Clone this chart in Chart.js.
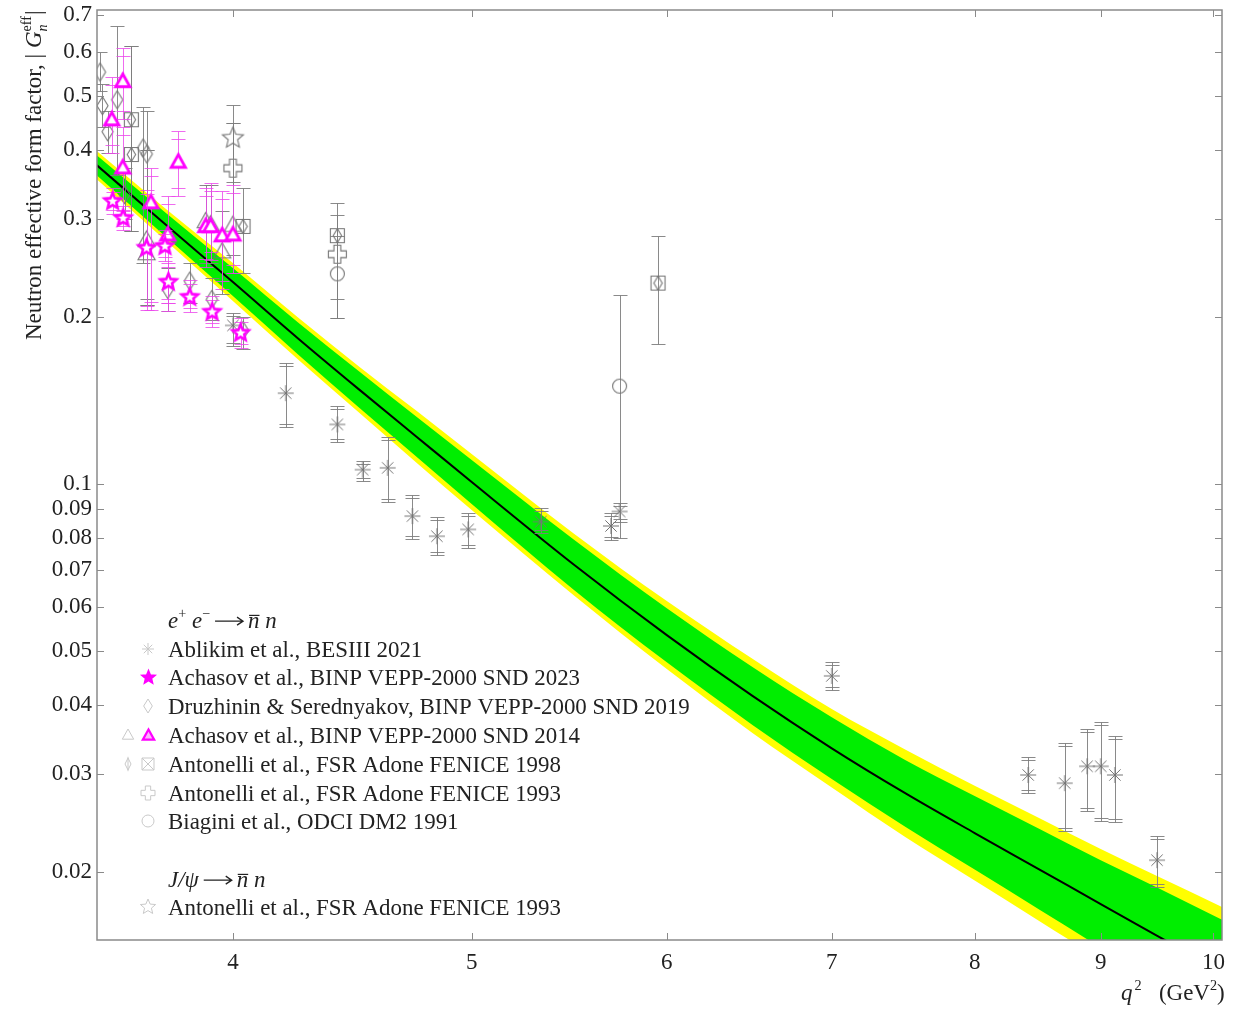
<!DOCTYPE html>
<html>
<head>
<meta charset="utf-8">
<script src="https://cdn.jsdelivr.net/npm/chart.js@4.4.1/dist/chart.umd.min.js"></script>
<style>
  html, body { margin: 0; padding: 0; background: #ffffff; }
  #wrap { width: 1246px; height: 1011px; position: relative; }
</style>
</head>
<body>
<div id="wrap"><canvas id="chart" width="1246" height="1011"></canvas></div>
<script>
// ---- axis ticks ----
const xTickValues = [4, 5, 6, 7, 8, 9, 10];
const yTickValues = [0.02, 0.03, 0.04, 0.05, 0.06, 0.07, 0.08, 0.09, 0.1, 0.2, 0.3, 0.4, 0.5, 0.6, 0.7];

// ---- model curve: central value with inner (green) and outer (yellow) bands ----
const modelQ2      = [3.52, 3.75, 4.0, 4.25, 4.5, 4.75, 5.0, 5.5, 6.0, 6.5, 7.0, 7.5, 8.0, 8.5, 9.0, 9.5, 10.08];
const modelCentral = [0.376, 0.295, 0.231, 0.183, 0.148, 0.1215, 0.1008, 0.0716, 0.0534, 0.0415, 0.0334, 0.0277, 0.0235, 0.0202, 0.0175, 0.0153, 0.0132];
const greenLo      = [0.3607, 0.2807, 0.2180, 0.1713, 0.1373, 0.1118, 0.0920, 0.0645, 0.0477, 0.0368, 0.0294, 0.0241, 0.0202, 0.0171, 0.0146, 0.0125, 0.0106];
const greenHi      = [0.3919, 0.3100, 0.2448, 0.1956, 0.1595, 0.1320, 0.1104, 0.0794, 0.0597, 0.0468, 0.0380, 0.0318, 0.0274, 0.0239, 0.0210, 0.0187, 0.0164];
const yellowLo     = [0.3548, 0.2761, 0.2135, 0.1677, 0.1345, 0.1091, 0.0897, 0.0630, 0.0464, 0.0356, 0.0284, 0.0231, 0.0193, 0.0163, 0.0139, 0.0119, 0.0101];
const yellowHi     = [0.3985, 0.3152, 0.2500, 0.1997, 0.1628, 0.1353, 0.1132, 0.0814, 0.0615, 0.0484, 0.0393, 0.0332, 0.0286, 0.0250, 0.0220, 0.0196, 0.0173];

// ---- e+e- -> nbar n : BESIII 2021 ----
const besQ2 = [4.0, 4.2025, 4.41, 4.5156, 4.6225, 4.7306, 4.84, 4.9836, 5.333, 5.695, 5.741, 7.0, 8.41, 8.7025, 8.886, 9.0, 9.12, 9.486];
const besG  = [0.193, 0.1457, 0.128, 0.1061, 0.1069, 0.0875, 0.0805, 0.0828, 0.0855, 0.0840, 0.0892, 0.0451, 0.0299, 0.0289, 0.0310, 0.0310, 0.0299, 0.0210];
const besLo = [0.177, 0.1266, 0.1189, 0.1014, 0.0927, 0.0797, 0.0745, 0.0767, 0.0815, 0.0793, 0.0855, 0.0426, 0.0278, 0.0237, 0.0257, 0.0247, 0.0246, 0.0188];
const besHi = [0.203, 0.1654, 0.1381, 0.1100, 0.1214, 0.0955, 0.0870, 0.0888, 0.0905, 0.0888, 0.0923, 0.0478, 0.0322, 0.0342, 0.0362, 0.0372, 0.0352, 0.0232];

// ---- SND 2023 ----
const snd23Q2 = [3.575, 3.610, 3.690, 3.754, 3.766, 3.842, 3.923, 4.029];
const snd23G  = [0.323, 0.301, 0.266, 0.268, 0.231, 0.217, 0.204, 0.187];
const snd23Lo = [0.306, 0.287, 0.206, 0.252, 0.212, 0.204, 0.192, 0.176];
const snd23Hi = [0.341, 0.317, 0.338, 0.287, 0.250, 0.233, 0.218, 0.199];

// ---- SND 2019 (Druzhinin & Serednyakov) ----
const snd19Q2 = [3.533, 3.541, 3.558, 3.590, 3.615, 3.678, 3.691, 3.764, 3.842, 3.922, 4.038];
const snd19G  = [0.552, 0.480, 0.431, 0.492, 0.332, 0.403, 0.393, 0.224, 0.232, 0.215, 0.189];
const snd19Lo = [0.510, 0.440, 0.395, 0.360, 0.300, 0.250, 0.215, 0.205, 0.212, 0.197, 0.175];
const snd19Hi = [0.600, 0.525, 0.470, 0.667, 0.370, 0.477, 0.470, 0.245, 0.250, 0.235, 0.200];

// ---- SND 2014, two determinations ----
const snd14aQ2 = [3.690, 3.690, 3.900, 3.918, 3.960, 4.000];
const snd14aG  = [0.275, 0.260, 0.297, 0.293, 0.262, 0.2925];
const snd14aLo = [0.210, 0.210, 0.250, 0.250, 0.220, 0.240];
const snd14aHi = [0.400, 0.400, 0.345, 0.345, 0.310, 0.350];

const snd14bQ2 = [3.572, 3.609, 3.609, 3.705, 3.764, 3.801, 3.900, 3.918, 3.960, 4.000];
const snd14bG  = [0.453, 0.531, 0.371, 0.321, 0.281, 0.380, 0.291, 0.291, 0.280, 0.281];
const snd14bLo = [0.395, 0.455, 0.300, 0.206, 0.205, 0.330, 0.246, 0.253, 0.224, 0.240];
const snd14bHi = [0.540, 0.610, 0.440, 0.370, 0.330, 0.432, 0.341, 0.348, 0.337, 0.345];

// ---- FENICE 1998 ----
const fen98Q2 = [3.638, 3.638, 4.038, 4.41, 5.951];
const fen98G  = [0.453, 0.392, 0.291, 0.280, 0.230];
const fen98Lo = [0.286, 0.286, 0.240, 0.199, 0.179];
const fen98Hi = [0.615, 0.615, 0.341, 0.321, 0.280];

// ---- FENICE 1993 ----
const fen93Q2 = [4.0, 4.41];
const fen93G  = [0.3705, 0.2593];
const fen93Lo = [0.275, 0.215];
const fen93Hi = [0.446, 0.305];

// ---- DM2 1991 ----
const dm2Q2 = [4.41, 5.741];
const dm2G  = [0.239, 0.150];
const dm2Lo = [0.199, 0.080];
const dm2Hi = [0.280, 0.219];

// ---- J/psi -> nbar n : FENICE 1993 ----
const jpsiQ2 = [4.0];
const jpsiG  = [0.4196];
const jpsiLo = [0.240];
const jpsiHi = [0.482];

// ---------------------------------------------------------------
const SERIF = '"Liberation Serif", "DejaVu Serif", serif';
const GRAY = '#747474';
const MAG = '#ff00ff';
const BAR_GRAY = 'rgba(125,125,125,0.9)';
const BAR_MAG = 'rgba(235,70,235,0.8)';
const LEG_GRAY = '#c9c9c9';

const pts = (xs, ys) => xs.map((v, i) => ({ x: v, y: ys[i] }));

// hollow marker shapes rendered to small canvases for use as point styles
function makeMarker(kind, color, s, lw, fill) {
  const size = Math.ceil(s * 2 + lw * 2 + 4);
  const cv = document.createElement('canvas');
  cv.width = size; cv.height = size;
  const g = cv.getContext('2d');
  const c = size / 2;
  g.strokeStyle = color; g.lineWidth = lw; g.lineJoin = 'miter';
  g.beginPath();
  if (kind === 'star5') {
    for (let k = 0; k < 10; k++) {
      const r = k % 2 ? s * 0.45 : s;
      const a = -Math.PI / 2 + k * Math.PI / 5;
      g.lineTo(c + r * Math.cos(a), c + r * Math.sin(a));
    }
    g.closePath();
  } else if (kind === 'triangle') {
    g.moveTo(c, c - s); g.lineTo(c + s * 0.95, c + s * 0.7); g.lineTo(c - s * 0.95, c + s * 0.7); g.closePath();
  } else if (kind === 'diamond') {
    g.moveTo(c, c - s); g.lineTo(c + s * 0.62, c); g.lineTo(c, c + s); g.lineTo(c - s * 0.62, c); g.closePath();
  } else if (kind === 'circle') {
    g.arc(c, c, s, 0, Math.PI * 2);
  } else if (kind === 'plus') {
    const a = s, b = s * 0.38;
    g.moveTo(c - b, c - a); g.lineTo(c + b, c - a); g.lineTo(c + b, c - b); g.lineTo(c + a, c - b);
    g.lineTo(c + a, c + b); g.lineTo(c + b, c + b); g.lineTo(c + b, c + a); g.lineTo(c - b, c + a);
    g.lineTo(c - b, c + b); g.lineTo(c - a, c + b); g.lineTo(c - a, c - b); g.lineTo(c - b, c - b); g.closePath();
  } else if (kind === 'squareDiamond') {
    g.rect(c - s, c - s, 2 * s, 2 * s);
    g.moveTo(c, c - s); g.lineTo(c + s * 0.6, c); g.lineTo(c, c + s); g.lineTo(c - s * 0.6, c); g.closePath();
  } else if (kind === 'square') {
    g.rect(c - s, c - s, 2 * s, 2 * s);
    g.moveTo(c - s, c - s); g.lineTo(c + s, c + s); g.moveTo(c + s, c - s); g.lineTo(c - s, c + s);
  } else if (kind === 'diamondLine') {
    g.moveTo(c, c - s); g.lineTo(c + s * 0.5, c); g.lineTo(c, c + s); g.lineTo(c - s * 0.5, c); g.closePath();
    g.moveTo(c, c - s * 1.2); g.lineTo(c, c + s * 1.2);
  } else if (kind === 'asterisk') {
    for (let k = 0; k < 4; k++) {
      const a = k * Math.PI / 4;
      g.moveTo(c - s * Math.cos(a), c - s * Math.sin(a)); g.lineTo(c + s * Math.cos(a), c + s * Math.sin(a));
    }
  }
  if (fill) { g.fillStyle = fill; g.fill(); }
  g.stroke();
  return cv;
}

const mk = {
  bes:   makeMarker('asterisk', GRAY, 8, 1),
  snd23: makeMarker('star5', MAG, 8.5, 2.6, '#ffffff'),
  snd19: makeMarker('diamond', GRAY, 9, 1.1),
  snd14a: makeMarker('triangle', GRAY, 9, 1.1),
  snd14b: makeMarker('triangle', MAG, 7.5, 2.8, '#ffffff'),
  fen98: makeMarker('squareDiamond', GRAY, 7, 1.1),
  fen93: makeMarker('plus', GRAY, 9, 1.1),
  dm2:   makeMarker('circle', GRAY, 7, 1.1),
  jpsi:  makeMarker('star5', GRAY, 11, 1.1)
};

// capGap > 0 adds a second, inner cap at each end of the bar
function markerSet(label, xs, ys, lo, hi, marker, barColor, capHalf, capGap, order) {
  return {
    label, data: pts(xs, ys), showLine: false, pointStyle: marker, pointRadius: 6,
    borderColor: barColor, backgroundColor: 'rgba(0,0,0,0)', order,
    errLo: lo, errHi: hi, errColor: barColor, capHalf, capGap
  };
}

const bandEdge = (data, order) => ({
  data, borderColor: 'rgba(0,0,0,0)', borderWidth: 1, pointRadius: 0, fill: false,
  cubicInterpolationMode: 'monotone', order
});

const datasets = [
  bandEdge(pts(modelQ2, yellowLo), 30),                                                         // 0
  Object.assign(bandEdge(pts(modelQ2, yellowHi), 29), { fill: { target: 0 }, backgroundColor: '#ffff00' }), // 1
  bandEdge(pts(modelQ2, greenLo), 28),                                                          // 2
  Object.assign(bandEdge(pts(modelQ2, greenHi), 27), { fill: { target: 2 }, backgroundColor: '#00ee00' }),  // 3
  { data: pts(modelQ2, modelCentral), borderColor: '#000000', borderWidth: 2, pointRadius: 0, fill: false,
    cubicInterpolationMode: 'monotone', order: 26 },
  markerSet('BESIII 2021', besQ2, besG, besLo, besHi, mk.bes, BAR_GRAY, 7, 3, 9),
  markerSet('DM2 1991', dm2Q2, dm2G, dm2Lo, dm2Hi, mk.dm2, BAR_GRAY, 7, 0, 8),
  markerSet('FENICE 1993', fen93Q2, fen93G, fen93Lo, fen93Hi, mk.fen93, BAR_GRAY, 7, 0, 7),
  markerSet('J/psi FENICE 1993', jpsiQ2, jpsiG, jpsiLo, jpsiHi, mk.jpsi, BAR_GRAY, 7, 18, 6),
  markerSet('FENICE 1998', fen98Q2, fen98G, fen98Lo, fen98Hi, mk.fen98, BAR_GRAY, 7, 0, 5),
  markerSet('SND 2019', snd19Q2, snd19G, snd19Lo, snd19Hi, mk.snd19, BAR_GRAY, 7, 0, 4),
  markerSet('SND 2014 a', snd14aQ2, snd14aG, snd14aLo, snd14aHi, mk.snd14a, BAR_GRAY, 7, 0, 3),
  markerSet('SND 2014 b', snd14bQ2, snd14bG, snd14bLo, snd14bHi, mk.snd14b, BAR_MAG, 7, 8, 2),
  markerSet('SND 2023', snd23Q2, snd23G, snd23Lo, snd23Hi, mk.snd23, BAR_MAG, 7, 4, 1)
];

// vertical error bars with caps, drawn just before each marker dataset
const errorBars = {
  id: 'errorBars',
  beforeDatasetDraw(chart, args) {
    const ds = chart.data.datasets[args.index];
    if (!ds.errLo) return;
    const { ctx, chartArea: a, scales: { x, y } } = chart;
    ctx.save();
    ctx.beginPath(); ctx.rect(a.left, a.top, a.right - a.left, a.bottom - a.top); ctx.clip();
    ctx.strokeStyle = ds.errColor; ctx.lineWidth = 1;
    ds.data.forEach((p, i) => {
      const px = Math.round(x.getPixelForValue(p.x)) + 0.5;
      const top = Math.round(y.getPixelForValue(ds.errHi[i])) + 0.5;
      const bot = Math.round(y.getPixelForValue(ds.errLo[i])) + 0.5;
      const w = ds.capHalf;
      ctx.beginPath();
      ctx.moveTo(px, top); ctx.lineTo(px, bot);
      ctx.moveTo(px - w, top); ctx.lineTo(px + w, top);
      ctx.moveTo(px - w, bot); ctx.lineTo(px + w, bot);
      const gap = ds.capGap;
      if (gap && bot - top > 4 * gap) {
        ctx.moveTo(px - w, top + gap); ctx.lineTo(px + w, top + gap);
        ctx.moveTo(px - w, bot - gap); ctx.lineTo(px + w, bot - gap);
      }
      ctx.stroke();
    });
    ctx.restore();
  }
};

// box frame with inward tick marks on all four sides
const frame = {
  id: 'frame',
  afterDatasetsDraw(chart) {
    const { ctx, chartArea: a, scales: { x, y } } = chart;
    ctx.save();
    ctx.strokeStyle = '#8a8a8a';
    ctx.lineWidth = 1.5;
    ctx.strokeRect(a.left, a.top, a.right - a.left, a.bottom - a.top);
    ctx.lineWidth = 1;
    ctx.beginPath();
    yTickValues.forEach(v => {
      const p = Math.round(y.getPixelForValue(v)) + 0.5;
      ctx.moveTo(a.left, p); ctx.lineTo(a.left + 7, p);
      ctx.moveTo(a.right, p); ctx.lineTo(a.right - 7, p);
    });
    xTickValues.forEach(v => {
      const p = Math.round(x.getPixelForValue(v)) + 0.5;
      ctx.moveTo(p, a.bottom); ctx.lineTo(p, a.bottom - 7);
      ctx.moveTo(p, a.top); ctx.lineTo(p, a.top + 7);
    });
    ctx.stroke();
    ctx.restore();
  }
};

// draws a run of text pieces; an arrow piece is stroked as a long arrow
function drawRuns(ctx, x, y, size, runs) {
  let cx = x;
  runs.forEach(r => {
    if (r.arrow) {
      const yy = y - size * 0.3;
      ctx.save(); ctx.strokeStyle = ctx.fillStyle; ctx.lineWidth = 1.3;
      ctx.beginPath();
      ctx.moveTo(cx + 5, yy); ctx.lineTo(cx + r.arrow - 5, yy);
      ctx.moveTo(cx + r.arrow - 11, yy - 4); ctx.lineTo(cx + r.arrow - 5, yy); ctx.lineTo(cx + r.arrow - 11, yy + 4);
      ctx.stroke(); ctx.restore();
      cx += r.arrow;
      return;
    }
    const small = r.shift && r.shift !== 'base';
    const fs = small ? size * 0.62 : size;
    ctx.font = (r.i ? 'italic ' : '') + fs + 'px ' + SERIF;
    const dy = r.shift === 'sup' ? -size * 0.42 : r.shift === 'sub' ? size * 0.25 : 0;
    const ox = r.dx || 0;
    ctx.fillText(r.t, cx + ox, y + dy);
    const w = ctx.measureText(r.t).width;
    if (r.over) {
      ctx.save(); ctx.lineWidth = 1.2; ctx.strokeStyle = ctx.fillStyle;
      ctx.beginPath(); ctx.moveTo(cx + ox + 1, y - size * 0.55); ctx.lineTo(cx + ox + w, y - size * 0.55); ctx.stroke();
      ctx.restore();
    }
    cx += w + ox;
  });
  return cx;
}

const LEG_FONT = 22.9;
const legendRows = [
  { y: 649, text: 'Ablikim et al., BESIII 2021', marks: [[148, makeMarker('asterisk', LEG_GRAY, 6, 1)]] },
  { y: 677, text: 'Achasov et al., BINP VEPP-2000 SND 2023', marks: [[148, makeMarker('star5', MAG, 7, 1.5, MAG)]] },
  { y: 706, text: 'Druzhinin & Serednyakov, BINP VEPP-2000 SND 2019', marks: [[148, makeMarker('diamond', LEG_GRAY, 7, 1)]] },
  { y: 735, text: 'Achasov et al., BINP VEPP-2000 SND 2014', marks: [[128, makeMarker('triangle', LEG_GRAY, 6, 1)], [148, makeMarker('triangle', MAG, 6, 2.2, '#ffb0ff')]] },
  { y: 764, text: 'Antonelli et al., FSR Adone FENICE 1998', marks: [[128, makeMarker('diamondLine', LEG_GRAY, 6, 1)], [148, makeMarker('square', LEG_GRAY, 6, 1)]] },
  { y: 793, text: 'Antonelli et al., FSR Adone FENICE 1993', marks: [[148, makeMarker('plus', LEG_GRAY, 7, 1)]] },
  { y: 821, text: 'Biagini et al., ODCI DM2 1991', marks: [[148, makeMarker('circle', LEG_GRAY, 6, 1)]] },
  { y: 907, text: 'Antonelli et al., FSR Adone FENICE 1993', marks: [[148, makeMarker('star5', LEG_GRAY, 8, 1)]] }
];

const annotations = {
  id: 'annotations',
  afterDraw(chart) {
    const { ctx } = chart;
    ctx.save();
    ctx.fillStyle = '#222222';
    ctx.textBaseline = 'alphabetic';
    ctx.textAlign = 'left';

    // legend
    drawRuns(ctx, 168, 628, LEG_FONT, [
      { t: 'e', i: true }, { t: '+', shift: 'sup' }, { t: ' e', i: true }, { t: '\u2212', shift: 'sup' },
      { arrow: 38 }, { t: 'n', i: true, over: true }, { t: ' n', i: true }
    ]);
    drawRuns(ctx, 168, 887, LEG_FONT, [
      { t: 'J/\u03c8', i: true }, { arrow: 38 }, { t: 'n', i: true, over: true }, { t: ' n', i: true }
    ]);
    legendRows.forEach(r => {
      ctx.font = LEG_FONT + 'px ' + SERIF;
      ctx.fillText(r.text, 168, r.y + 8);
      r.marks.forEach(([mx, cv]) => ctx.drawImage(cv, Math.round(mx - cv.width / 2), Math.round(r.y - cv.height / 2)));
    });

    // x-axis title
    drawRuns(ctx, 1121, 1000, 23, [
      { t: 'q', i: true }, { t: '2', shift: 'sup', dx: 2 }, { t: '   (GeV' }, { t: '2', shift: 'sup' }, { t: ')' }
    ]);

    // y-axis title, rotated
    ctx.translate(41, 340);
    ctx.rotate(-Math.PI / 2);
    const cx = drawRuns(ctx, 0, 0, 23, [{ t: 'Neutron effective form factor, | ' }, { t: 'G', i: true }]);
    ctx.font = 'italic ' + (23 * 0.62) + 'px ' + SERIF;
    ctx.fillText('n', cx, 23 * 0.25);
    ctx.font = (23 * 0.62) + 'px ' + SERIF;
    ctx.fillText('eff', cx, -23 * 0.45);
    const w = ctx.measureText('eff').width;
    ctx.font = '23px ' + SERIF;
    ctx.fillText('|', cx + w + 1, 0);
    ctx.restore();
  }
};

new Chart(document.getElementById('chart'), {
  type: 'line',
  data: { datasets },
  plugins: [errorBars, frame, annotations],
  options: {
    responsive: false,
    animation: false,
    events: [],
    layout: { padding: { top: 10, right: 24, left: 0, bottom: 0 } },
    plugins: { legend: { display: false }, tooltip: { enabled: false } },
    scales: {
      x: {
        type: 'logarithmic', min: 3.523, max: 10.08,
        afterBuildTicks: s => { s.ticks = xTickValues.map(v => ({ value: v })); },
        afterFit: s => { s.height = 71; s.paddingLeft = 0; s.paddingRight = 0; },
        grid: { display: false, drawTicks: false }, border: { display: false },
        ticks: { font: { family: SERIF, size: 23 }, color: '#222222', padding: 9, maxRotation: 0, autoSkip: false,
                 callback: v => String(v) }
      },
      y: {
        type: 'logarithmic', min: 0.01508, max: 0.714,
        afterBuildTicks: s => { s.ticks = yTickValues.map(v => ({ value: v })); },
        afterFit: s => { s.width = 97; s.paddingTop = 0; s.paddingBottom = 0; },
        grid: { display: false, drawTicks: false }, border: { display: false },
        ticks: { font: { family: SERIF, size: 23 }, color: '#222222', padding: 5, autoSkip: false,
                 callback: v => String(v) }
      }
    }
  }
});
</script>
</body>
</html>
